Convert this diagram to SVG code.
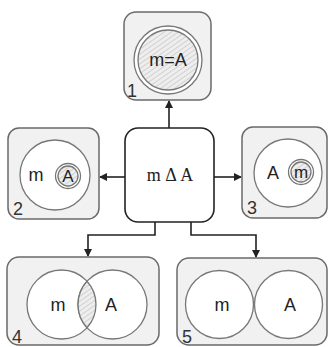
<svg xmlns="http://www.w3.org/2000/svg" width="330" height="347" viewBox="0 0 330 347">
<style>
.box{fill:#f1f1f1;stroke:#6a6a6a;stroke-width:1.5}
.ctr{fill:#fff;stroke:#222;stroke-width:1.6}
.c{fill:#fff;stroke:#777;stroke-width:1.3}
.h{fill:url(#hatch);stroke:#777;stroke-width:1.3}
.t{font-family:"Liberation Sans",Arial,sans-serif;font-size:18px;fill:#222;text-anchor:middle}
.ts{font-family:"Liberation Sans",Arial,sans-serif;font-size:17px;fill:#222;text-anchor:middle}
.n{font-family:"Liberation Sans",Arial,sans-serif;font-size:18px;fill:#333}
.s{font-family:"Liberation Serif","Times New Roman",serif;font-size:18px;fill:#222;text-anchor:middle}
.ln{fill:none;stroke:#222;stroke-width:1.6}
</style>
<defs>
<pattern id="hatch" width="4" height="4" patternUnits="userSpaceOnUse" patternTransform="rotate(-35)">
<rect width="4" height="4" fill="#eeeeee"/>
<line x1="0" y1="0" x2="4" y2="0" stroke="#b4b4b4" stroke-width="1"/>
</pattern>
<marker id="ah" markerWidth="8" markerHeight="8" refX="7" refY="4" orient="auto" markerUnits="userSpaceOnUse">
<path d="M0,0 L8,4 L0,8 Z" fill="#222"/>
</marker>
</defs>
<g id="connectors">
<line class="ln" x1="169" y1="128" x2="169" y2="101" marker-end="url(#ah)"/>
<line class="ln" x1="125" y1="177" x2="100" y2="177" marker-end="url(#ah)"/>
<line class="ln" x1="214" y1="177" x2="241" y2="177" marker-end="url(#ah)"/>
<polyline class="ln" points="155,222 155,235 88,235 88,256" marker-end="url(#ah)"/>
<polyline class="ln" points="191,222 191,235 256,235 256,257" marker-end="url(#ah)"/>
</g>
<g id="center">
<rect class="ctr" x="125" y="128" width="89" height="94" rx="13"/>
<text class="s" x="170" y="181">m Δ A</text>
</g>
<g id="node1">
<rect class="box" x="124" y="12" width="87" height="88" rx="12"/>
<circle class="c" cx="168" cy="60" r="34"/>
<circle class="h" cx="168" cy="60" r="30"/>
<text class="t" x="168" y="66">m=A</text>
<text class="n" x="127" y="97">1</text>
</g>
<g id="node2">
<rect class="box" x="8" y="128" width="91" height="91" rx="11"/>
<circle class="c" cx="55" cy="175" r="35"/>
<circle class="c" cx="68" cy="176" r="12.5"/>
<circle class="h" cx="68" cy="176" r="10"/>
<text class="t" x="36" y="181">m</text>
<text class="ts" x="68" y="182">A</text>
<text class="n" x="13" y="215">2</text>
</g>
<g id="node3">
<rect class="box" x="242" y="127" width="85" height="91" rx="11"/>
<circle class="c" cx="288" cy="173" r="34"/>
<circle class="c" cx="301" cy="172" r="12.5"/>
<circle class="h" cx="301" cy="172" r="10"/>
<text class="t" x="273" y="179">A</text>
<text class="ts" x="301" y="178">m</text>
<text class="n" x="247" y="214">3</text>
</g>
<g id="node4">
<rect class="box" x="7" y="257" width="152" height="88" rx="12"/>
<circle class="c" cx="61.5" cy="304.5" r="34.5"/>
<circle class="c" cx="112.5" cy="304.5" r="34.5"/>
<path class="h" d="M87,281.3 A34.5,34.5 0 0 1 87,327.7 A34.5,34.5 0 0 1 87,281.3 Z"/>
<text class="t" x="58" y="311">m</text>
<text class="t" x="111" y="311">A</text>
<text class="n" x="12" y="343">4</text>
</g>
<g id="node5">
<rect class="box" x="177" y="258" width="150" height="87" rx="12"/>
<circle class="c" cx="219.5" cy="304.5" r="34"/>
<circle class="c" cx="288.5" cy="304.5" r="34"/>
<text class="t" x="222" y="311">m</text>
<text class="t" x="290" y="311">A</text>
<text class="n" x="182" y="343">5</text>
</g>
</svg>
